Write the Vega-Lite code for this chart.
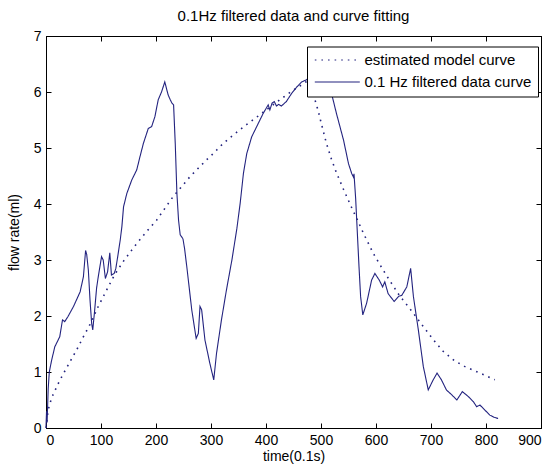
{
  "$schema": "https://vega.github.io/schema/vega-lite/v6.json",
  "width": 495,
  "height": 392,
  "autosize": {"type": "none"},
  "padding": {"left": 46, "top": 36, "right": 14, "bottom": 40},
  "background": "white",
  "title": {"text": "0.1Hz filtered data and curve fitting", "fontSize": 15, "fontWeight": "normal", "font": "Liberation Sans", "offset": 5, "color": "black"},
  "config": {
    "view": {"stroke": "black", "strokeWidth": 1},
    "axis": {"domainColor": "black", "tickColor": "black", "labelColor": "black", "titleColor": "black", "labelFont": "Liberation Sans", "titleFont": "Liberation Sans", "labelFontSize": 14, "titleFontSize": 14, "titleFontWeight": "normal", "grid": false, "tickSize": -5, "labelPadding": 10}
  },
  "datasets": {
    "measured": [
      {"series": "0.1 Hz filtered data curve", "t": 0, "v": 0.02},
      {"series": "0.1 Hz filtered data curve", "t": 1, "v": 0.3},
      {"series": "0.1 Hz filtered data curve", "t": 2, "v": 0.1},
      {"series": "0.1 Hz filtered data curve", "t": 3, "v": 0.4},
      {"series": "0.1 Hz filtered data curve", "t": 4, "v": 0.7},
      {"series": "0.1 Hz filtered data curve", "t": 6, "v": 1.0},
      {"series": "0.1 Hz filtered data curve", "t": 10, "v": 1.2},
      {"series": "0.1 Hz filtered data curve", "t": 16, "v": 1.45},
      {"series": "0.1 Hz filtered data curve", "t": 25, "v": 1.63},
      {"series": "0.1 Hz filtered data curve", "t": 30, "v": 1.93},
      {"series": "0.1 Hz filtered data curve", "t": 34, "v": 1.9},
      {"series": "0.1 Hz filtered data curve", "t": 40, "v": 1.99},
      {"series": "0.1 Hz filtered data curve", "t": 50, "v": 2.17},
      {"series": "0.1 Hz filtered data curve", "t": 62, "v": 2.43},
      {"series": "0.1 Hz filtered data curve", "t": 68, "v": 2.7},
      {"series": "0.1 Hz filtered data curve", "t": 72, "v": 3.17},
      {"series": "0.1 Hz filtered data curve", "t": 74, "v": 3.1},
      {"series": "0.1 Hz filtered data curve", "t": 77, "v": 2.82},
      {"series": "0.1 Hz filtered data curve", "t": 80, "v": 2.29},
      {"series": "0.1 Hz filtered data curve", "t": 83, "v": 1.87},
      {"series": "0.1 Hz filtered data curve", "t": 85, "v": 1.75},
      {"series": "0.1 Hz filtered data curve", "t": 88, "v": 2.05},
      {"series": "0.1 Hz filtered data curve", "t": 92, "v": 2.5},
      {"series": "0.1 Hz filtered data curve", "t": 95, "v": 2.7},
      {"series": "0.1 Hz filtered data curve", "t": 101, "v": 3.06},
      {"series": "0.1 Hz filtered data curve", "t": 104, "v": 3.0},
      {"series": "0.1 Hz filtered data curve", "t": 108, "v": 2.67},
      {"series": "0.1 Hz filtered data curve", "t": 112, "v": 2.79},
      {"series": "0.1 Hz filtered data curve", "t": 116, "v": 3.13},
      {"series": "0.1 Hz filtered data curve", "t": 119, "v": 2.73},
      {"series": "0.1 Hz filtered data curve", "t": 124, "v": 2.76},
      {"series": "0.1 Hz filtered data curve", "t": 127, "v": 2.85},
      {"series": "0.1 Hz filtered data curve", "t": 131, "v": 3.1},
      {"series": "0.1 Hz filtered data curve", "t": 135, "v": 3.36},
      {"series": "0.1 Hz filtered data curve", "t": 138, "v": 3.6},
      {"series": "0.1 Hz filtered data curve", "t": 141, "v": 3.95},
      {"series": "0.1 Hz filtered data curve", "t": 147, "v": 4.19},
      {"series": "0.1 Hz filtered data curve", "t": 156, "v": 4.43},
      {"series": "0.1 Hz filtered data curve", "t": 165, "v": 4.61},
      {"series": "0.1 Hz filtered data curve", "t": 171, "v": 4.85},
      {"series": "0.1 Hz filtered data curve", "t": 177, "v": 5.08},
      {"series": "0.1 Hz filtered data curve", "t": 186, "v": 5.35},
      {"series": "0.1 Hz filtered data curve", "t": 192, "v": 5.38},
      {"series": "0.1 Hz filtered data curve", "t": 198, "v": 5.56},
      {"series": "0.1 Hz filtered data curve", "t": 204, "v": 5.86},
      {"series": "0.1 Hz filtered data curve", "t": 210, "v": 6.0},
      {"series": "0.1 Hz filtered data curve", "t": 216, "v": 6.18},
      {"series": "0.1 Hz filtered data curve", "t": 222, "v": 5.95},
      {"series": "0.1 Hz filtered data curve", "t": 226, "v": 5.86},
      {"series": "0.1 Hz filtered data curve", "t": 229, "v": 5.8},
      {"series": "0.1 Hz filtered data curve", "t": 232, "v": 5.77},
      {"series": "0.1 Hz filtered data curve", "t": 235, "v": 5.08},
      {"series": "0.1 Hz filtered data curve", "t": 238, "v": 4.19},
      {"series": "0.1 Hz filtered data curve", "t": 241, "v": 3.71},
      {"series": "0.1 Hz filtered data curve", "t": 244, "v": 3.45},
      {"series": "0.1 Hz filtered data curve", "t": 249, "v": 3.38},
      {"series": "0.1 Hz filtered data curve", "t": 252, "v": 3.2},
      {"series": "0.1 Hz filtered data curve", "t": 256, "v": 2.88},
      {"series": "0.1 Hz filtered data curve", "t": 265, "v": 2.11},
      {"series": "0.1 Hz filtered data curve", "t": 273, "v": 1.6},
      {"series": "0.1 Hz filtered data curve", "t": 277, "v": 1.69},
      {"series": "0.1 Hz filtered data curve", "t": 280, "v": 2.17},
      {"series": "0.1 Hz filtered data curve", "t": 283, "v": 2.11},
      {"series": "0.1 Hz filtered data curve", "t": 289, "v": 1.57},
      {"series": "0.1 Hz filtered data curve", "t": 298, "v": 1.15},
      {"series": "0.1 Hz filtered data curve", "t": 305, "v": 0.86},
      {"series": "0.1 Hz filtered data curve", "t": 310, "v": 1.33},
      {"series": "0.1 Hz filtered data curve", "t": 319, "v": 1.93},
      {"series": "0.1 Hz filtered data curve", "t": 328, "v": 2.46},
      {"series": "0.1 Hz filtered data curve", "t": 338, "v": 3.0},
      {"series": "0.1 Hz filtered data curve", "t": 347, "v": 3.56},
      {"series": "0.1 Hz filtered data curve", "t": 353, "v": 4.01},
      {"series": "0.1 Hz filtered data curve", "t": 359, "v": 4.55},
      {"series": "0.1 Hz filtered data curve", "t": 365, "v": 4.9},
      {"series": "0.1 Hz filtered data curve", "t": 374, "v": 5.2},
      {"series": "0.1 Hz filtered data curve", "t": 386, "v": 5.44},
      {"series": "0.1 Hz filtered data curve", "t": 395, "v": 5.62},
      {"series": "0.1 Hz filtered data curve", "t": 404, "v": 5.77},
      {"series": "0.1 Hz filtered data curve", "t": 407, "v": 5.68},
      {"series": "0.1 Hz filtered data curve", "t": 411, "v": 5.8},
      {"series": "0.1 Hz filtered data curve", "t": 415, "v": 5.83},
      {"series": "0.1 Hz filtered data curve", "t": 419, "v": 5.75},
      {"series": "0.1 Hz filtered data curve", "t": 423, "v": 5.78},
      {"series": "0.1 Hz filtered data curve", "t": 428, "v": 5.75},
      {"series": "0.1 Hz filtered data curve", "t": 437, "v": 5.83},
      {"series": "0.1 Hz filtered data curve", "t": 447, "v": 5.98},
      {"series": "0.1 Hz filtered data curve", "t": 456, "v": 6.09},
      {"series": "0.1 Hz filtered data curve", "t": 465, "v": 6.18},
      {"series": "0.1 Hz filtered data curve", "t": 474, "v": 6.22},
      {"series": "0.1 Hz filtered data curve", "t": 482, "v": 6.3},
      {"series": "0.1 Hz filtered data curve", "t": 492, "v": 6.33},
      {"series": "0.1 Hz filtered data curve", "t": 503, "v": 6.28},
      {"series": "0.1 Hz filtered data curve", "t": 512, "v": 6.12},
      {"series": "0.1 Hz filtered data curve", "t": 519, "v": 5.98},
      {"series": "0.1 Hz filtered data curve", "t": 528, "v": 5.62},
      {"series": "0.1 Hz filtered data curve", "t": 541, "v": 5.14},
      {"series": "0.1 Hz filtered data curve", "t": 550, "v": 4.72},
      {"series": "0.1 Hz filtered data curve", "t": 556, "v": 4.54},
      {"series": "0.1 Hz filtered data curve", "t": 559, "v": 4.48},
      {"series": "0.1 Hz filtered data curve", "t": 560, "v": 4.54},
      {"series": "0.1 Hz filtered data curve", "t": 563, "v": 4.1},
      {"series": "0.1 Hz filtered data curve", "t": 566, "v": 3.5},
      {"series": "0.1 Hz filtered data curve", "t": 569, "v": 2.9},
      {"series": "0.1 Hz filtered data curve", "t": 572, "v": 2.35},
      {"series": "0.1 Hz filtered data curve", "t": 576, "v": 2.02},
      {"series": "0.1 Hz filtered data curve", "t": 583, "v": 2.23},
      {"series": "0.1 Hz filtered data curve", "t": 592, "v": 2.64},
      {"series": "0.1 Hz filtered data curve", "t": 598, "v": 2.76},
      {"series": "0.1 Hz filtered data curve", "t": 606, "v": 2.64},
      {"series": "0.1 Hz filtered data curve", "t": 612, "v": 2.52},
      {"series": "0.1 Hz filtered data curve", "t": 616, "v": 2.61},
      {"series": "0.1 Hz filtered data curve", "t": 622, "v": 2.4},
      {"series": "0.1 Hz filtered data curve", "t": 633, "v": 2.26},
      {"series": "0.1 Hz filtered data curve", "t": 641, "v": 2.35},
      {"series": "0.1 Hz filtered data curve", "t": 647, "v": 2.37},
      {"series": "0.1 Hz filtered data curve", "t": 656, "v": 2.52},
      {"series": "0.1 Hz filtered data curve", "t": 663, "v": 2.85},
      {"series": "0.1 Hz filtered data curve", "t": 668, "v": 2.35},
      {"series": "0.1 Hz filtered data curve", "t": 677, "v": 1.75},
      {"series": "0.1 Hz filtered data curve", "t": 686, "v": 1.1},
      {"series": "0.1 Hz filtered data curve", "t": 695, "v": 0.68},
      {"series": "0.1 Hz filtered data curve", "t": 704, "v": 0.86},
      {"series": "0.1 Hz filtered data curve", "t": 711, "v": 0.98},
      {"series": "0.1 Hz filtered data curve", "t": 719, "v": 0.86},
      {"series": "0.1 Hz filtered data curve", "t": 728, "v": 0.68},
      {"series": "0.1 Hz filtered data curve", "t": 738, "v": 0.59},
      {"series": "0.1 Hz filtered data curve", "t": 747, "v": 0.5},
      {"series": "0.1 Hz filtered data curve", "t": 757, "v": 0.65},
      {"series": "0.1 Hz filtered data curve", "t": 768, "v": 0.56},
      {"series": "0.1 Hz filtered data curve", "t": 777, "v": 0.47},
      {"series": "0.1 Hz filtered data curve", "t": 783, "v": 0.38},
      {"series": "0.1 Hz filtered data curve", "t": 789, "v": 0.41},
      {"series": "0.1 Hz filtered data curve", "t": 801, "v": 0.29},
      {"series": "0.1 Hz filtered data curve", "t": 807, "v": 0.23},
      {"series": "0.1 Hz filtered data curve", "t": 815, "v": 0.19},
      {"series": "0.1 Hz filtered data curve", "t": 822, "v": 0.17}
    ],
    "model": [
      {"series": "estimated model curve", "t": 0, "v": 0},
      {"series": "estimated model curve", "t": 3, "v": 0.25},
      {"series": "estimated model curve", "t": 6, "v": 0.41},
      {"series": "estimated model curve", "t": 13, "v": 0.6},
      {"series": "estimated model curve", "t": 25, "v": 0.85},
      {"series": "estimated model curve", "t": 40, "v": 1.12},
      {"series": "estimated model curve", "t": 56, "v": 1.4},
      {"series": "estimated model curve", "t": 68, "v": 1.63},
      {"series": "estimated model curve", "t": 80, "v": 1.85},
      {"series": "estimated model curve", "t": 95, "v": 2.17},
      {"series": "estimated model curve", "t": 110, "v": 2.46},
      {"series": "estimated model curve", "t": 125, "v": 2.74},
      {"series": "estimated model curve", "t": 141, "v": 2.98},
      {"series": "estimated model curve", "t": 159, "v": 3.22},
      {"series": "estimated model curve", "t": 183, "v": 3.51},
      {"series": "estimated model curve", "t": 201, "v": 3.71},
      {"series": "estimated model curve", "t": 231, "v": 4.13},
      {"series": "estimated model curve", "t": 244, "v": 4.28},
      {"series": "estimated model curve", "t": 262, "v": 4.49},
      {"series": "estimated model curve", "t": 274, "v": 4.61},
      {"series": "estimated model curve", "t": 292, "v": 4.79},
      {"series": "estimated model curve", "t": 304, "v": 4.9},
      {"series": "estimated model curve", "t": 322, "v": 5.08},
      {"series": "estimated model curve", "t": 334, "v": 5.18},
      {"series": "estimated model curve", "t": 353, "v": 5.33},
      {"series": "estimated model curve", "t": 365, "v": 5.42},
      {"series": "estimated model curve", "t": 383, "v": 5.55},
      {"series": "estimated model curve", "t": 395, "v": 5.64},
      {"series": "estimated model curve", "t": 425, "v": 5.86},
      {"series": "estimated model curve", "t": 449, "v": 6.03},
      {"series": "estimated model curve", "t": 470, "v": 6.16},
      {"series": "estimated model curve", "t": 478, "v": 6.22},
      {"series": "estimated model curve", "t": 486, "v": 5.96},
      {"series": "estimated model curve", "t": 495, "v": 5.66},
      {"series": "estimated model curve", "t": 501, "v": 5.42},
      {"series": "estimated model curve", "t": 510, "v": 5.08},
      {"series": "estimated model curve", "t": 519, "v": 4.8},
      {"series": "estimated model curve", "t": 528, "v": 4.56},
      {"series": "estimated model curve", "t": 541, "v": 4.26},
      {"series": "estimated model curve", "t": 555, "v": 3.95},
      {"series": "estimated model curve", "t": 566, "v": 3.72},
      {"series": "estimated model curve", "t": 577, "v": 3.48},
      {"series": "estimated model curve", "t": 595, "v": 3.12},
      {"series": "estimated model curve", "t": 613, "v": 2.82},
      {"series": "estimated model curve", "t": 631, "v": 2.54},
      {"series": "estimated model curve", "t": 643, "v": 2.36},
      {"series": "estimated model curve", "t": 656, "v": 2.2},
      {"series": "estimated model curve", "t": 668, "v": 2.05},
      {"series": "estimated model curve", "t": 686, "v": 1.81},
      {"series": "estimated model curve", "t": 704, "v": 1.58},
      {"series": "estimated model curve", "t": 722, "v": 1.37},
      {"series": "estimated model curve", "t": 743, "v": 1.2},
      {"series": "estimated model curve", "t": 761, "v": 1.1},
      {"series": "estimated model curve", "t": 782, "v": 1.01},
      {"series": "estimated model curve", "t": 803, "v": 0.92},
      {"series": "estimated model curve", "t": 816, "v": 0.86}
    ]
  },
  "layer": [
    {
      "data": {"name": "measured"},
      "mark": {"type": "line", "strokeWidth": 1.1, "interpolate": "linear"},
      "encoding": {
        "x": {"field": "t", "type": "quantitative", "scale": {"domain": [0, 900], "nice": false, "zero": false},
              "axis": {"orient": "bottom", "values": [0, 100, 200, 300, 400, 500, 600, 700, 800, 900], "title": "time(0.1s)", "titleY": 21, "titleBaseline": "top"}},
        "y": {"field": "v", "type": "quantitative", "scale": {"domain": [0, 7], "nice": false},
              "axis": {"orient": "left", "values": [0, 1, 2, 3, 4, 5, 6, 7], "title": "flow rate(ml)", "titleX": -25, "titleY": 196, "titleBaseline": "bottom"}},
        "color": {"field": "series", "type": "nominal",
                  "scale": {"domain": ["estimated model curve", "0.1 Hz filtered data curve"], "range": ["#23237f", "#23237f"]},
                  "legend": {"title": null, "orient": "none", "legendX": 261, "legendY": 10.5, "padding": 6, "fillColor": "white", "strokeColor": "black", "cornerRadius": 0, "symbolType": "M-0.95,0H6.55", "symbolSize": 144, "symbolStrokeWidth": 1.2, "labelFont": "Liberation Sans", "labelFontSize": 15, "labelColor": "black", "labelLimit": 400, "labelOffset": 36.5, "rowPadding": 6}},
        "strokeDash": {"field": "series", "type": "nominal",
                  "scale": {"domain": ["estimated model curve", "0.1 Hz filtered data curve"], "range": [[1.6, 5], [1, 0]]},
                  "legend": {"title": null, "orient": "none", "legendX": 261, "legendY": 10.5, "padding": 6, "fillColor": "white", "strokeColor": "black", "cornerRadius": 0, "symbolType": "M-0.95,0H6.55", "symbolSize": 144, "symbolStrokeWidth": 1.2, "labelFont": "Liberation Sans", "labelFontSize": 15, "labelColor": "black", "labelLimit": 400, "labelOffset": 36.5, "rowPadding": 6}}
      }
    },
    {
      "data": {"name": "model"},
      "mark": {"type": "line", "strokeWidth": 1.6},
      "encoding": {
        "x": {"field": "t", "type": "quantitative", "scale": {"domain": [0, 900], "nice": false, "zero": false},
              "axis": {"orient": "top", "values": [0, 100, 200, 300, 400, 500, 600, 700, 800, 900], "labels": false, "title": null}},
        "y": {"field": "v", "type": "quantitative", "scale": {"domain": [0, 7], "nice": false},
              "axis": {"orient": "right", "values": [0, 1, 2, 3, 4, 5, 6, 7], "labels": false, "title": null}},
        "color": {"field": "series", "type": "nominal"},
        "strokeDash": {"field": "series", "type": "nominal"}
      }
    }
  ],
  "resolve": {"axis": {"x": "independent", "y": "independent"}}
}
